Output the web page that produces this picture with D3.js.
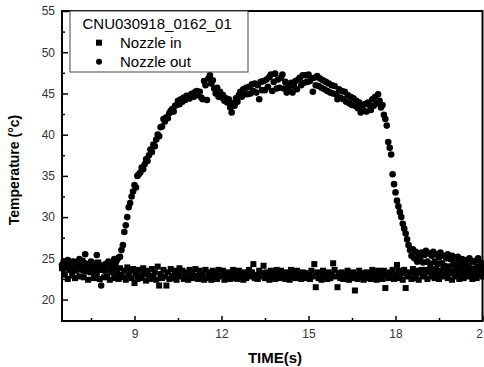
<!DOCTYPE html>
<html>
<head>
<meta charset="utf-8">
<script src="https://cdn.jsdelivr.net/npm/d3@7"></script>
<style>
  body { margin: 0; background: #fff; }
  svg { display: block; font-family: "Liberation Sans", Arial, sans-serif; }
</style>
</head>
<body>
<div id="chart"></div>
<script>
// sample times (s)
const time = [
  6.5, 6.55, 6.6, 6.65, 6.7, 6.75, 6.8, 6.85, 6.9, 6.95,
  7, 7.05, 7.1, 7.15, 7.2, 7.25, 7.3, 7.35, 7.4, 7.45,
  7.5, 7.55, 7.6, 7.65, 7.7, 7.75, 7.8, 7.85, 7.9, 7.95,
  8, 8.05, 8.1, 8.15, 8.2, 8.25, 8.3, 8.35, 8.4, 8.45,
  8.5, 8.55, 8.6, 8.65, 8.7, 8.75, 8.8, 8.85, 8.9, 8.95,
  9, 9.05, 9.1, 9.15, 9.2, 9.25, 9.3, 9.35, 9.4, 9.45,
  9.5, 9.55, 9.6, 9.65, 9.7, 9.75, 9.8, 9.85, 9.9, 9.95,
  10, 10.05, 10.1, 10.15, 10.2, 10.25, 10.3, 10.35, 10.4, 10.45,
  10.5, 10.55, 10.6, 10.65, 10.7, 10.75, 10.8, 10.85, 10.9, 10.95,
  11, 11.05, 11.1, 11.15, 11.2, 11.25, 11.3, 11.35, 11.4, 11.45,
  11.5, 11.55, 11.6, 11.65, 11.7, 11.75, 11.8, 11.85, 11.9, 11.95,
  12, 12.05, 12.1, 12.15, 12.2, 12.25, 12.3, 12.35, 12.4, 12.45,
  12.5, 12.55, 12.6, 12.65, 12.7, 12.75, 12.8, 12.85, 12.9, 12.95,
  13, 13.05, 13.1, 13.15, 13.2, 13.25, 13.3, 13.35, 13.4, 13.45,
  13.5, 13.55, 13.6, 13.65, 13.7, 13.75, 13.8, 13.85, 13.9, 13.95,
  14, 14.05, 14.1, 14.15, 14.2, 14.25, 14.3, 14.35, 14.4, 14.45,
  14.5, 14.55, 14.6, 14.65, 14.7, 14.75, 14.8, 14.85, 14.9, 14.95,
  15, 15.05, 15.1, 15.15, 15.2, 15.25, 15.3, 15.35, 15.4, 15.45,
  15.5, 15.55, 15.6, 15.65, 15.7, 15.75, 15.8, 15.85, 15.9, 15.95,
  16, 16.05, 16.1, 16.15, 16.2, 16.25, 16.3, 16.35, 16.4, 16.45,
  16.5, 16.55, 16.6, 16.65, 16.7, 16.75, 16.8, 16.85, 16.9, 16.95,
  17, 17.05, 17.1, 17.15, 17.2, 17.25, 17.3, 17.35, 17.4, 17.45,
  17.5, 17.55, 17.6, 17.65, 17.7, 17.75, 17.8, 17.85, 17.9, 17.95,
  18, 18.05, 18.1, 18.15, 18.2, 18.25, 18.3, 18.35, 18.4, 18.45,
  18.5, 18.55, 18.6, 18.65, 18.7, 18.75, 18.8, 18.85, 18.9, 18.95,
  19, 19.05, 19.1, 19.15, 19.2, 19.25, 19.3, 19.35, 19.4, 19.45,
  19.5, 19.55, 19.6, 19.65, 19.7, 19.75, 19.8, 19.85, 19.9, 19.95,
  20, 20.05, 20.1, 20.15, 20.2, 20.25, 20.3, 20.35, 20.4, 20.45,
  20.5, 20.55, 20.6, 20.65, 20.7, 20.75, 20.8, 20.85, 20.9, 20.95,
  21
];

// Nozzle in (squares), deg C
const nozzleIn = [
  23.8, 24.5, 23.0, 24.2, 22.5, 23.6, 24.6, 22.9, 24.1, 22.6,
  23.5, 24.4, 22.8, 23.9, 24.7, 22.7, 23.4, 24.3, 22.4, 24.0,
  23.3, 24.2, 22.6, 23.7, 23.0, 24.5, 22.5, 23.6, 24.1, 22.7,
  23.5, 22.8, 23.9, 22.4, 23.3, 24.1, 22.6, 23.7, 23.2, 22.5,
  23.8, 23.0, 22.7, 23.5, 22.4, 23.9, 22.9, 23.4, 22.6, 23.7,
  22.0, 23.2, 22.5, 23.6, 22.9, 22.6, 23.8, 23.1, 22.3, 23.5,
  22.9, 22.5, 23.7, 22.8, 23.3, 22.4, 24.0, 21.7, 23.1, 22.6,
  23.6, 22.8, 21.7, 23.3, 22.5, 23.7, 22.9, 22.6, 23.5, 22.4,
  23.1, 23.8, 22.8, 23.5, 22.5, 23.3, 22.9, 22.4, 23.6, 22.8,
  23.3, 22.6, 23.7, 22.9, 22.5, 23.5, 22.8, 23.1, 22.4, 23.6,
  22.6, 23.3, 23.0, 22.4, 23.5, 22.8, 23.2, 22.5, 23.6, 22.9,
  22.8, 23.5, 22.4, 23.1, 22.6, 23.3, 22.5, 23.0, 23.6, 22.6,
  23.2, 22.5, 23.5, 22.8, 23.0, 22.4, 23.3, 22.6, 23.1, 23.6,
  22.8, 23.3, 24.3, 22.6, 23.0, 22.5, 23.5, 22.8, 23.2, 24.1,
  22.6, 23.3, 23.0, 22.4, 23.5, 22.8, 23.2, 22.5, 23.6, 23.0,
  22.6, 23.5, 22.8, 23.2, 22.5, 23.3, 23.0, 22.4, 23.6, 22.8,
  23.2, 22.6, 23.5, 22.8, 23.0, 22.5, 23.3, 22.6, 23.2, 22.8,
  23.0, 22.5, 23.5, 22.8, 24.3, 21.5, 23.3, 22.6, 23.0, 22.4,
  23.5, 22.8, 23.2, 22.5, 23.3, 22.6, 23.0, 24.4, 23.6, 22.8,
  21.5, 23.2, 22.6, 23.3, 22.5, 23.0, 22.8, 23.5, 22.4, 23.2,
  22.6, 23.3, 21.1, 23.0, 22.5, 23.5, 22.8, 23.2, 22.4, 23.0,
  23.3, 22.6, 23.2, 22.5, 23.6, 22.8, 23.0, 22.4, 23.5, 22.6,
  23.2, 22.5, 23.5, 21.4, 23.0, 22.6, 23.3, 22.8, 23.6, 22.5,
  23.0, 24.2, 23.5, 22.6, 23.2, 22.4, 23.6, 21.4, 23.0, 22.8,
  23.3, 22.5, 23.7, 23.0, 22.6, 23.5, 22.4, 23.2, 23.6, 22.8,
  23.0, 23.6, 22.5, 23.3, 23.8, 22.8, 23.2, 22.6, 23.7, 23.0,
  22.5, 23.5, 23.0, 23.8, 22.8, 23.3, 22.6, 23.6, 23.2, 22.4,
  23.5, 22.8, 23.7, 23.0, 22.5, 23.6, 23.2, 22.6, 23.8, 23.3,
  22.8, 23.5, 23.0, 22.5, 23.7, 23.2, 22.6, 23.6, 23.0, 23.3,
  22.8
];

// Nozzle out (circles), deg C
const nozzleOut = [
  24.2, 23.7, 24.5, 24.0, 24.8, 23.9, 24.3, 23.5, 24.6, 24.1,
  24.4, 23.8, 24.9, 24.2, 23.6, 24.5, 25.5, 24.0, 24.3, 23.9,
  24.6, 24.1, 23.7, 24.4, 25.4, 23.8, 24.2, 21.7, 23.6, 24.0,
  24.3, 23.9, 24.6, 24.2, 23.8, 24.5, 24.9, 24.4, 24.8, 25.1,
  25.2, 26.0, 26.6, 28.2, 29.0, 30.0, 31.2, 31.7, 32.5, 33.1,
  33.9, 33.6, 35.0, 35.2, 35.4, 36.0, 35.8, 36.4, 37.0, 36.8,
  37.5, 38.2, 37.9, 38.8, 38.6, 39.4, 40.0, 39.8, 40.9, 41.0,
  41.9, 41.6, 42.1, 42.0, 42.6, 42.9, 43.1, 42.8, 43.5, 43.6,
  44.1, 43.7, 44.3, 44.0, 44.5, 44.2, 44.7, 44.5, 44.4, 44.9,
  45.0, 44.6, 45.2, 45.3, 44.8, 45.2, 44.5, 44.3, 46.5, 46.0,
  44.2, 46.8, 47.2, 46.2, 46.6, 45.6, 45.0, 45.7, 44.6, 45.2,
  44.5, 44.8, 44.1, 44.4, 43.9, 44.3, 43.3, 42.7, 43.8, 43.5,
  44.4, 44.0, 44.8, 45.2, 44.6, 45.5, 44.9, 45.7, 44.9, 45.8,
  45.0, 46.1, 45.3, 46.2, 45.1, 46.0, 44.3, 46.4, 45.4, 46.5,
  45.4, 46.7, 45.8, 47.0, 47.3, 45.3, 46.4, 47.4, 45.6, 46.7,
  45.7, 46.9, 47.3, 45.6, 46.4, 45.1, 45.9, 45.3, 46.3, 45.1,
  45.9, 46.5, 45.5, 46.7, 46.9, 46.0, 47.2, 46.3, 47.2, 46.4,
  47.3, 46.5, 46.8, 45.2, 46.9, 46.0, 47.1, 45.9, 46.8, 45.7,
  46.6, 45.5, 46.4, 45.3, 46.2, 45.1, 46.0, 45.0, 45.9, 44.9,
  44.3, 45.5, 44.5, 45.3, 44.3, 45.2, 44.0, 44.8, 43.8, 44.6,
  43.6, 44.4, 43.5, 44.1, 43.2, 43.9, 42.7, 43.5, 42.9, 43.7,
  42.8, 43.9, 43.6, 43.0, 44.3, 43.5, 44.6, 43.8, 44.9, 44.1,
  43.3, 43.6, 42.4, 41.9, 41.1, 39.1, 38.4, 37.6, 35.2, 34.0,
  33.0, 32.0, 31.3, 30.6, 30.0, 29.2, 28.6, 28.0, 27.3, 26.6,
  26.0, 25.3, 26.1, 25.0, 25.8, 24.6, 25.5, 24.9, 25.7, 24.5,
  25.4, 25.9, 24.6, 25.6, 24.3, 25.3, 25.8, 24.6, 25.5, 24.3,
  25.1, 25.7, 24.4, 25.3, 24.1, 25.0, 25.5, 24.0, 24.9, 25.3,
  24.3, 25.0, 23.9, 25.2, 24.5, 23.8, 24.9, 24.2, 23.7, 24.8,
  24.1, 25.0, 23.8, 24.6, 23.6, 24.7, 24.0, 25.0, 23.9, 24.5,
  23.9
];

const xTicks = [9, 12, 15, 18, 21];
const xMinorTicks = [7.5, 10.5, 13.5, 16.5, 19.5];
const yTicks = [20, 25, 30, 35, 40, 45, 50, 55];
const yMinorTicks = [22.5, 27.5, 32.5, 37.5, 42.5, 47.5, 52.5];
const legendTitle = 'CNU030918_0162_01';
const seriesNames = ['Nozzle in', 'Nozzle out'];

const width = 484;
const height = 367;
const margin = {top: 11, right: 1.5, bottom: 46, left: 62};

const x = d3.scaleLinear()
  .domain([6.5, 21])
  .range([margin.left, width - margin.right]);

const y = d3.scaleLinear()
  .domain([17.4, 55])
  .range([height - margin.bottom, margin.top]);

const svg = d3.select('#chart')
  .append('svg')
  .attr('width', width)
  .attr('height', height);

svg.append('rect')
  .attr('width', width)
  .attr('height', height)
  .attr('fill', '#fff');

// markers
svg.append('g')
  .selectAll('rect')
  .data(time)
  .enter()
  .append('rect')
  .attr('x', (d, i) => x(d) - 3)
  .attr('y', (d, i) => y(nozzleIn[i]) - 3)
  .attr('width', 6)
  .attr('height', 6)
  .attr('fill', '#000');

svg.append('g')
  .selectAll('circle')
  .data(time)
  .enter()
  .append('circle')
  .attr('cx', d => x(d))
  .attr('cy', (d, i) => y(nozzleOut[i]))
  .attr('r', 3.3)
  .attr('fill', '#000');

// Axises
function axisStyle(g) {
  g.select('.domain').remove();
  g.selectAll('.tick line').attr('stroke', '#000').attr('stroke-width', 1.5);
  g.selectAll('.tick text').attr('fill', '#333').style('font-size', '12px');
}

svg.append('g')
  .attr('transform', 'translate(0,' + (height - margin.bottom) + ')')
  .call(d3.axisBottom(x).tickValues(xTicks).tickSizeInner(-5).tickSizeOuter(0).tickPadding(8))
  .call(axisStyle);

svg.append('g')
  .attr('transform', 'translate(0,' + (height - margin.bottom) + ')')
  .call(d3.axisBottom(x).tickValues(xMinorTicks).tickSizeInner(-3).tickSizeOuter(0).tickFormat(''))
  .call(axisStyle);

svg.append('g')
  .attr('transform', 'translate(' + margin.left + ',0)')
  .call(d3.axisLeft(y).tickValues(yTicks).tickSizeInner(-6).tickSizeOuter(0).tickPadding(7))
  .call(axisStyle);

svg.append('g')
  .attr('transform', 'translate(' + margin.left + ',0)')
  .call(d3.axisLeft(y).tickValues(yMinorTicks).tickSizeInner(-3).tickSizeOuter(0).tickFormat(''))
  .call(axisStyle);

// frame
svg.append('rect')
  .attr('x', margin.left)
  .attr('y', margin.top)
  .attr('width', width - margin.left - margin.right)
  .attr('height', height - margin.top - margin.bottom)
  .attr('fill', 'none')
  .attr('stroke', '#000')
  .attr('stroke-width', 2);

// axis titles
svg.append('text')
  .attr('transform', 'translate(18.5,170) rotate(-90)')
  .attr('text-anchor', 'middle')
  .style('font-size', '14px')
  .style('font-weight', 'bold')
  .text('Temperature (°c)');

svg.append('text')
  .attr('x', 275)
  .attr('y', 363)
  .attr('text-anchor', 'middle')
  .style('font-size', '15px')
  .style('font-weight', 'bold')
  .text('TIME(s)');

// legend
const legend = svg.append('g');

legend.append('rect')
  .attr('x', 70)
  .attr('y', margin.top)
  .attr('width', 178)
  .attr('height', 61)
  .attr('fill', '#fff')
  .attr('stroke', '#444')
  .attr('stroke-width', 1);

legend.append('text')
  .attr('x', 82.5)
  .attr('y', 28.5)
  .style('font-size', '15px')
  .text(legendTitle);

legend.append('rect')
  .attr('x', 96)
  .attr('y', 39.7)
  .attr('width', 6)
  .attr('height', 6)
  .attr('fill', '#000');

legend.append('circle')
  .attr('cx', 99)
  .attr('cy', 61.7)
  .attr('r', 3)
  .attr('fill', '#000');

legend.selectAll('.name')
  .data(seriesNames)
  .enter()
  .append('text')
  .attr('class', 'name')
  .attr('x', 120)
  .attr('y', (d, i) => 47.5 + i * 19)
  .style('font-size', '15px')
  .text(d => d);
</script>
</body>
</html>
